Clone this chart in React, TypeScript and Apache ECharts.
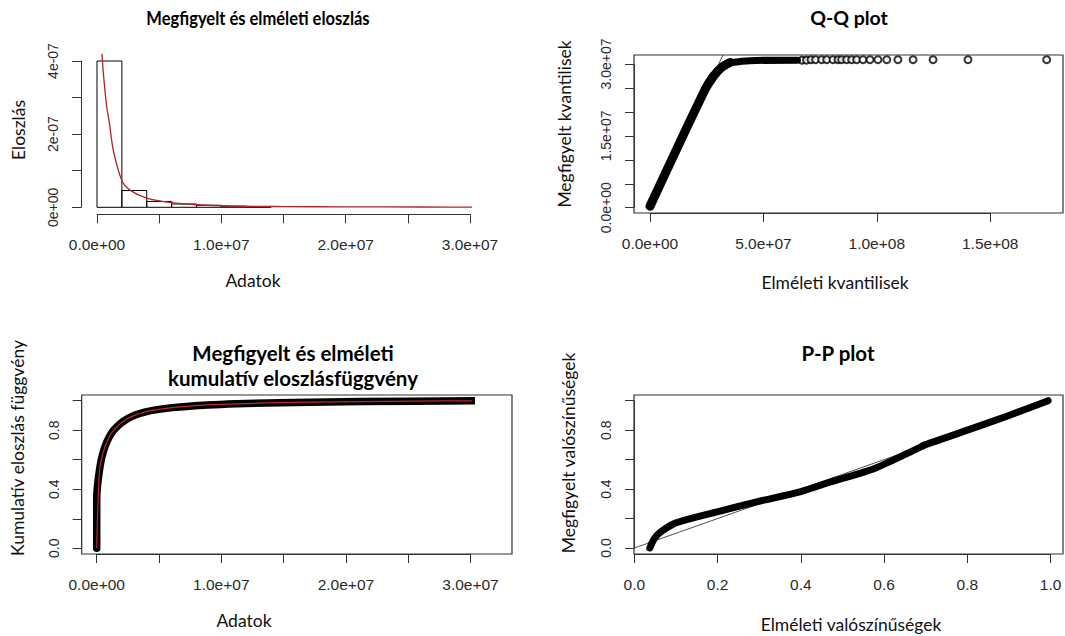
import React, { useEffect, useRef } from 'react';
import * as echarts from 'echarts';

// ---------- Data ----------
// Histogram (density) of observed data
const histBinStart = [0, 2e6, 4e6, 6e6, 8e6, 10e6, 12e6];
const histBinEnd = [2e6, 4e6, 6e6, 8e6, 10e6, 12e6, 14e6];
const histDensity = [4.0e-7, 4.6e-8, 1.6e-8, 9e-9, 5.5e-9, 3e-9, 1.5e-9];
// Theoretical density curve (red)
const densX = [4.0e5, 5.1e5, 7.8e5, 1.0e6, 1.31e6, 2.0e6, 2.65e6, 4.0e6, 6.0e6, 8.0e6, 1.07e7, 1.5e7, 2.0e7, 2.6e7, 3.1e7];
const densY = [4.2e-7, 3.67e-7, 2.75e-7, 2.3e-7, 1.56e-7, 7.3e-8, 4.7e-8, 2.5e-8, 1.25e-8, 7e-9, 3.5e-9, 2e-9, 1.2e-9, 8e-10, 5e-10];

// Q-Q plot: dense band of points (steep part, flat part) and sparse upper-tail points
const qqBandX = [0, 2.42e7, 2.79e7, 3.16e7, 3.53e7];
const qqBandY = [0.03e7, 2.46e7, 2.74e7, 2.93e7, 3.03e7];
const qqFlatX = [3.53e7, 4.41e7, 6.5e7];
const qqFlatY = [3.03e7, 3.07e7, 3.08e7];
const qqTailX = [6.7e7, 6.9e7, 7.1e7, 7.3e7, 7.57e7, 7.79e7, 8.07e7, 8.29e7, 8.45e7, 8.67e7, 8.89e7, 9.11e7, 9.39e7, 9.7e7, 1.005e8, 1.044e8, 1.093e8, 1.16e8, 1.248e8, 1.402e8, 1.749e8];
const qqTailY = [3.08e7, 3.08e7, 3.09e7, 3.09e7, 3.09e7, 3.09e7, 3.09e7, 3.09e7, 3.09e7, 3.09e7, 3.09e7, 3.09e7, 3.09e7, 3.09e7, 3.09e7, 3.09e7, 3.09e7, 3.09e7, 3.09e7, 3.09e7, 3.09e7];
const qqLineX = [0, 3.22e7];
const qqLineY = [0, 3.19e7];

// Empirical vs theoretical CDF
const cdfX = [0, 0, 2.6e5, 6.7e5, 1.36e6, 2.46e6, 3.85e6, 6.06e6, 9.93e6, 1.71e7, 2.54e7, 3.09e7];
const cdfY = [0, 0.33, 0.55, 0.69, 0.8, 0.878, 0.923, 0.953, 0.975, 0.99, 0.997, 1.0];
const cdfRedX = [0, 1e5, 2.6e5, 6.7e5, 1.36e6, 2.46e6, 3.85e6, 6.06e6, 9.93e6, 1.71e7, 2.54e7, 3.22e7];
const cdfRedY = [0, 0.3, 0.55, 0.69, 0.8, 0.878, 0.923, 0.953, 0.975, 0.99, 0.997, 1.0];

// P-P plot
const ppX = [0.037, 0.047, 0.063, 0.095, 0.135, 0.199, 0.296, 0.4, 0.473, 0.577, 0.682, 0.698, 0.8, 0.9, 0.994];
const ppY = [0.0, 0.06, 0.108, 0.165, 0.2, 0.245, 0.315, 0.383, 0.45, 0.54, 0.678, 0.7, 0.8, 0.9, 1.0];
const ppLineX = [0, 1.03];
const ppLineY = [0, 1.03];

// Tick labels
const histXLabels = ['0.0e+00', '', '1.0e+07', '', '2.0e+07', '', '3.0e+07'];
const histYLabels = ['0e+00', '', '2e-07', '', '4e-07'];
const qqXLabels = ['0.0e+00', '5.0e+07', '1.0e+08', '1.5e+08'];
const qqYLabels = ['0.0e+00', '', '', '1.5e+07', '', '', '3.0e+07'];
const cdfXLabels = ['0.0e+00', '', '1.0e+07', '', '2.0e+07', '', '3.0e+07'];
const cdfYLabels = ['0.0', '', '0.4', '', '0.8', ''];
const ppXLabels = ['0.0', '0.2', '0.4', '0.6', '0.8', '1.0'];
const ppYLabels = ['0.0', '', '0.4', '', '0.8', ''];

// ---------- Styling / layout ----------
const AXIS_COLOR = '#333';
const LABEL_COLOR = '#2a2a2a';
const TICK_FONT = '"Liberation Sans", Arial, sans-serif';
const TITLE_FONT = 'Lato, "Open Sans", sans-serif';

const zip = (xs: number[], ys: number[]) => xs.map((x, i) => [x, ys[i]]);

function xAxis(gridIndex: number, max: number, interval: number, labels: string[], offset: number) {
  return {
    type: 'value', gridIndex, min: 0, max, interval, offset, position: 'bottom',
    axisLine: { show: true, onZero: false, lineStyle: { color: AXIS_COLOR, width: 1 } },
    axisTick: { show: true, length: 9, inside: false, lineStyle: { color: AXIS_COLOR, width: 1 } },
    axisLabel: {
      formatter: (v: number) => labels[Math.round(v / interval)] ?? '',
      margin: 22, fontFamily: TICK_FONT, fontSize: 15.5, color: LABEL_COLOR,
      showMinLabel: true, showMaxLabel: true,
    },
    splitLine: { show: false },
  };
}

function yAxis(gridIndex: number, max: number, interval: number, labels: string[], offset: number) {
  return {
    type: 'value', gridIndex, min: 0, max, interval, offset, position: 'left',
    axisLine: { show: true, onZero: false, lineStyle: { color: AXIS_COLOR, width: 1 } },
    axisTick: { show: true, length: 9, inside: false, lineStyle: { color: AXIS_COLOR, width: 1 } },
    axisLabel: {
      formatter: (v: number) => labels[Math.round(v / interval)] ?? '',
      margin: 21, rotate: 90, fontFamily: TICK_FONT, fontSize: 14, color: LABEL_COLOR,
      showMinLabel: true, showMaxLabel: true,
    },
    splitLine: { show: false },
  };
}

const grids = [
  { left: 97, top: 61, width: 373, height: 146.3 },
  { left: 650, top: 64, width: 340.2, height: 143.7 },
  { left: 96.7, top: 400.7, width: 373.8, height: 147.6 },
  { left: 634.4, top: 400.7, width: 416.2, height: 147.3 },
];

const boxes = [
  { x: 634, y: 55, width: 429, height: 158 },
  { x: 81.7, y: 395, width: 430.3, height: 159 },
  { x: 634, y: 395, width: 429, height: 159 },
];

const titleText = (text: string, x: number, y: number, size: number, scaleX = 1) => ({
  type: 'text', x, y, scaleX, silent: true,
  style: { text, x: 0, y: 0, font: `bold ${size}px ${TITLE_FONT}`, fill: '#000', align: 'center', verticalAlign: 'middle', textAlign: 'center', textVerticalAlign: 'middle' },
});
const axisTitle = (text: string, x: number, y: number, vertical = false) => ({
  type: 'text', x, y, rotation: vertical ? Math.PI / 2 : 0, silent: true,
  style: { text, x: 0, y: 0, font: `17.5px ${TITLE_FONT}`, fill: '#111', align: 'center', verticalAlign: 'middle', textAlign: 'center', textVerticalAlign: 'middle' },
});

const option: any = {
  animation: false,
  backgroundColor: '#fff',
  grid: grids.map((g) => ({ ...g, show: false, containLabel: false, outerBoundsMode: 'none' })),
  xAxis: [
    xAxis(0, 3e7, 5e6, histXLabels, 7),
    xAxis(1, 1.5e8, 5e7, qqXLabels, 5.3),
    xAxis(2, 3e7, 5e6, cdfXLabels, 5.7),
    xAxis(3, 1.0, 0.2, ppXLabels, 6),
  ],
  yAxis: [
    yAxis(0, 4e-7, 1e-7, histYLabels, 16),
    yAxis(1, 3e7, 5e6, qqYLabels, 16),
    yAxis(2, 1.0, 0.2, cdfYLabels, 15),
    yAxis(3, 1.0, 0.2, ppYLabels, 0.4),
  ],
  series: [
    {
      type: 'custom', xAxisIndex: 0, yAxisIndex: 0, clip: false,
      data: histBinStart.map((s, i) => [s, histBinEnd[i], histDensity[i]]),
      encode: { x: [0, 1], y: 2 },
      renderItem: (_p: any, api: any) => {
        const a = api.coord([api.value(0), api.value(2)]);
        const b = api.coord([api.value(1), 0]);
        return {
          type: 'rect',
          shape: { x: a[0], y: a[1], width: b[0] - a[0], height: b[1] - a[1] },
          style: { fill: 'none', stroke: '#000', lineWidth: 1 },
        };
      },
    },
    {
      type: 'line', xAxisIndex: 0, yAxisIndex: 0, clip: false, symbol: 'none', smooth: 0.3,
      data: zip(densX, densY), lineStyle: { color: '#b0232a', width: 1.3 },
    },
    {
      type: 'line', xAxisIndex: 1, yAxisIndex: 1, clip: false, symbol: 'none',
      data: zip(qqLineX, qqLineY), lineStyle: { color: '#222', width: 0.8 },
    },
    {
      type: 'line', xAxisIndex: 1, yAxisIndex: 1, clip: false, symbol: 'none', smooth: 0.3,
      data: zip(qqBandX, qqBandY), lineStyle: { color: '#000', width: 9, cap: 'round', join: 'round' },
    },
    {
      type: 'line', xAxisIndex: 1, yAxisIndex: 1, clip: false, symbol: 'none', smooth: 0.3,
      data: zip(qqFlatX, qqFlatY), lineStyle: { color: '#000', width: 7, cap: 'round', join: 'round' },
    },
    {
      type: 'scatter', xAxisIndex: 1, yAxisIndex: 1, clip: false, symbol: 'emptyCircle', symbolSize: 7,
      data: zip(qqTailX, qqTailY), itemStyle: { color: '#000', borderColor: '#000', borderWidth: 1.2 },
    },
    {
      type: 'line', xAxisIndex: 2, yAxisIndex: 2, clip: false, symbol: 'none', smooth: 0.3,
      data: zip(cdfX, cdfY), lineStyle: { color: '#000', width: 7.5, cap: 'round', join: 'round' },
    },
    {
      type: 'line', xAxisIndex: 2, yAxisIndex: 2, clip: false, symbol: 'none', smooth: 0.3,
      data: zip(cdfRedX, cdfRedY), lineStyle: { color: '#c0262e', width: 1.2 },
    },
    {
      type: 'line', xAxisIndex: 3, yAxisIndex: 3, clip: false, symbol: 'none',
      data: zip(ppLineX, ppLineY), lineStyle: { color: '#222', width: 0.8 },
    },
    {
      type: 'line', xAxisIndex: 3, yAxisIndex: 3, clip: false, symbol: 'none', smooth: 0.25,
      data: zip(ppX, ppY), lineStyle: { color: '#000', width: 7, cap: 'round', join: 'round' },
    },
  ],
  graphic: [
    ...boxes.map((b) => ({
      type: 'rect', silent: true, shape: b,
      style: { fill: 'none', stroke: AXIS_COLOR, lineWidth: 1.2 },
    })),
    titleText('Megfigyelt és elméleti eloszlás', 258, 18, 19, 0.87),
    titleText('Q-Q plot', 849, 17, 19.5),
    titleText('Megfigyelt és elméleti', 293, 353, 20.5),
    titleText('kumulatív eloszlásfüggvény', 293, 378, 20.5),
    titleText('P-P plot', 838, 353, 20.5),
    axisTitle('Adatok', 253, 280),
    axisTitle('Eloszlás', 18, 130, true),
    axisTitle('Elméleti kvantilisek', 835, 282),
    axisTitle('Megfigyelt kvantilisek', 564, 124, true),
    axisTitle('Adatok', 244, 620),
    axisTitle('Kumulatív eloszlás függvény', 17, 448, true),
    axisTitle('Elméleti valószínűségek', 851, 624),
    axisTitle('Megfigyelt valószínűségek', 568, 453, true),
  ],
};

export default function App() {
  const ref = useRef<HTMLDivElement>(null);
  useEffect(() => {
    const chart = echarts.init(ref.current!, null, { renderer: 'svg' });
    chart.setOption(option);
    return () => chart.dispose();
  }, []);
  return (
    <div
      ref={ref}
      style={{ position: 'fixed', left: 0, top: 0, width: 1065, height: 636, background: '#fff' }}
    />
  );
}
